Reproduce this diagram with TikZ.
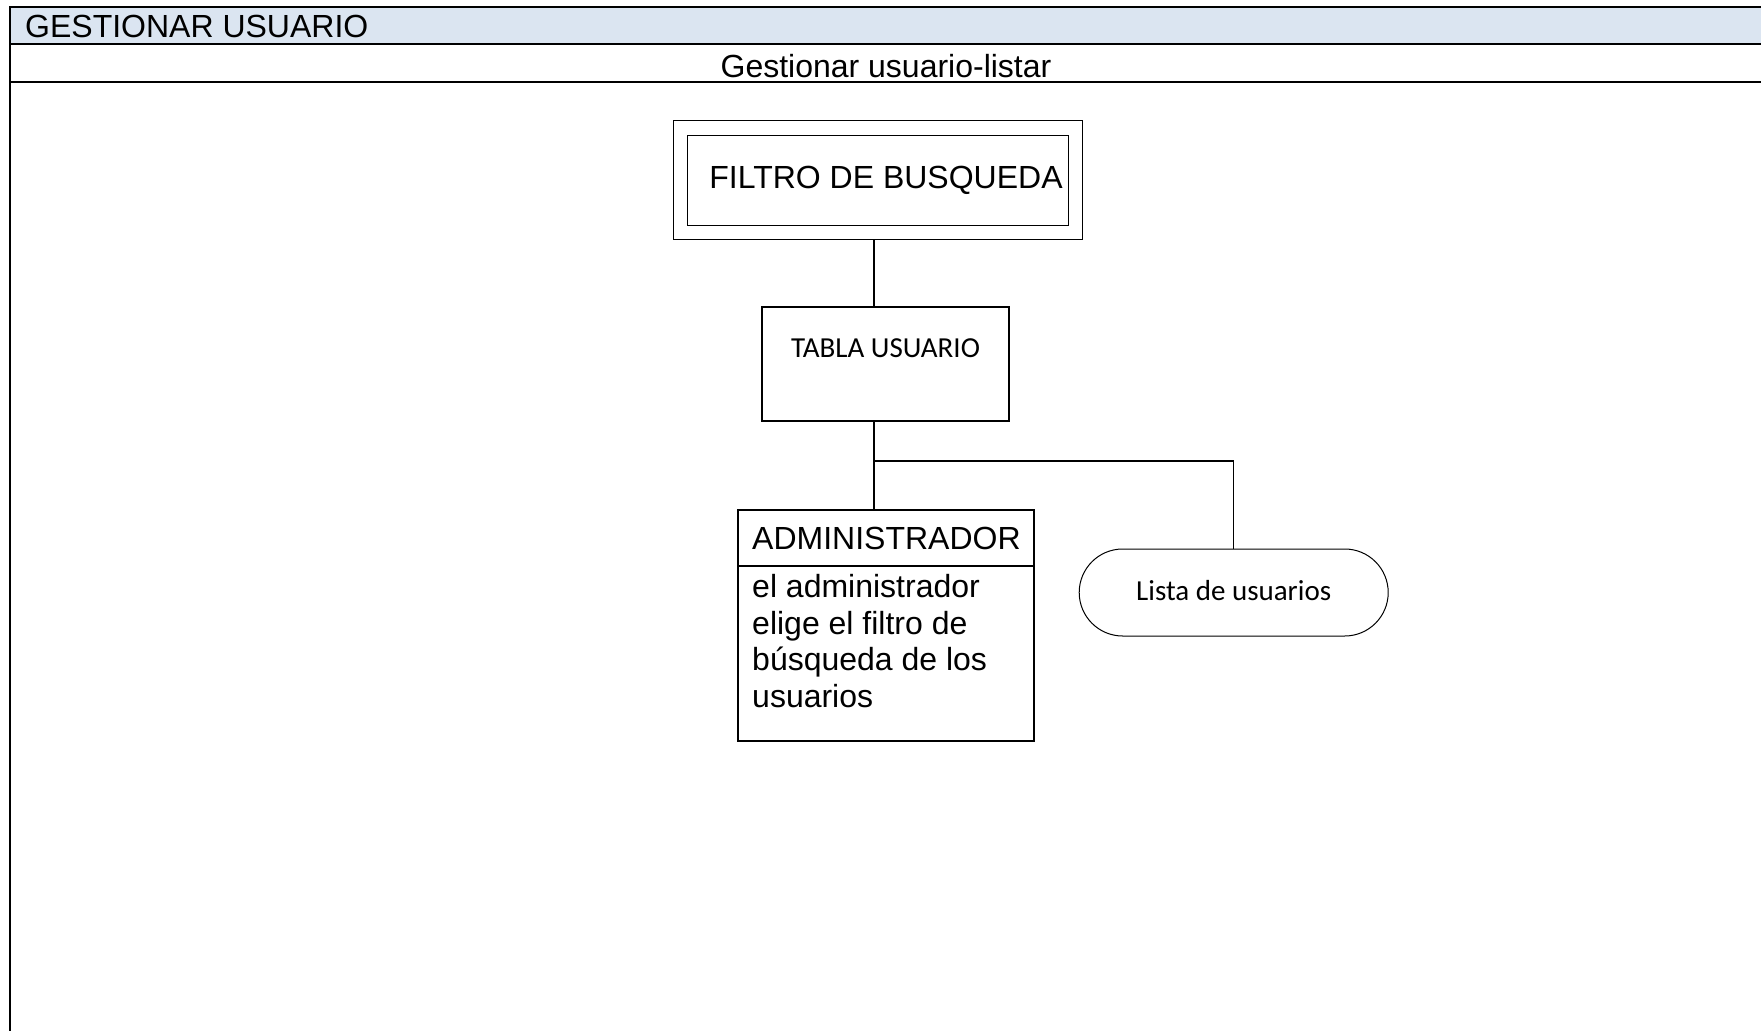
\documentclass[tikz,border=0pt]{standalone}
\usepackage{fontspec}
\setmainfont{Liberation Sans}
\newfontfamily\calibri{Carlito}
\usetikzlibrary{shapes.misc}
\definecolor{headblue}{HTML}{DBE5F1}

\begin{document}
\begin{tikzpicture}[x=1pt, y=-1pt,
    arial/.style={font=\fontsize{32}{36.8}\selectfont},
    cali/.style={font=\calibri\fontsize{29}{35}\selectfont},
    grid/.style={line width=2.4pt},
    box/.style={draw, line width=1.2pt, inner sep=0pt},
    link/.style={line width=1.2pt}]
    \useasboundingbox (0, 0) rectangle (1761, 1031);
    % cabecera de la tabla
    \fill[headblue] (10, 7) rectangle (1761, 44);
    \draw[grid] (1761, 7) -- (10, 7) -- (10, 1031);
    \draw[grid] (10, 44) -- (1761, 44);
    \draw[grid] (10, 82) -- (1761, 82);
    \node[arial, anchor=base west, inner sep=0pt] (titulo) at (25, 37) {GESTIONAR USUARIO};
    \node[arial, anchor=base, inner sep=0pt] (subtitulo) at (886, 77) {Gestionar usuario-listar};

    % cajas
    \node[box, double, double distance=13.2pt, outer sep=7.8pt, minimum width=395pt, minimum height=104.5pt, arial] (filtro) at (878, 180.25) {\hspace*{16pt}FILTRO DE BUSQUEDA};
    \node[box, cali, minimum width=247pt, minimum height=114pt, text height=10pt, text depth=24pt] (tabla) at (885.5, 364) {TABLA USUARIO};
    \node[box, line width=1.6pt, minimum width=296pt, minimum height=231pt] (admin) at (886, 625.5) {};
    \draw[line width=1.6pt] ([yshift=-57pt]admin.north west) -- ([yshift=-57pt]admin.north east);
    \node[arial, anchor=base west, inner sep=0pt] (admintitulo) at (752, 549) {ADMINISTRADOR};
    \node[arial, anchor=north west, align=left, inner sep=0pt] (admintexto) at (752, 574) {el administrador\\elige el filtro de\\búsqueda de los\\usuarios};
    \node[draw, rounded rectangle, line width=1pt, cali, minimum width=309pt, minimum height=87pt, inner sep=0pt, text depth=5pt] (lista) at (1233.7, 592.5) {Lista de usuarios};

    % conectores
    \coordinate (rama) at (874, 461);
    \draw[link] (filtro.south -| rama) -- (tabla.north -| rama);
    \draw[link] (tabla.south -| rama) -- (admin.north -| rama);
    \draw[link] (rama) -| (lista.north);
\end{tikzpicture}
\end{document}
